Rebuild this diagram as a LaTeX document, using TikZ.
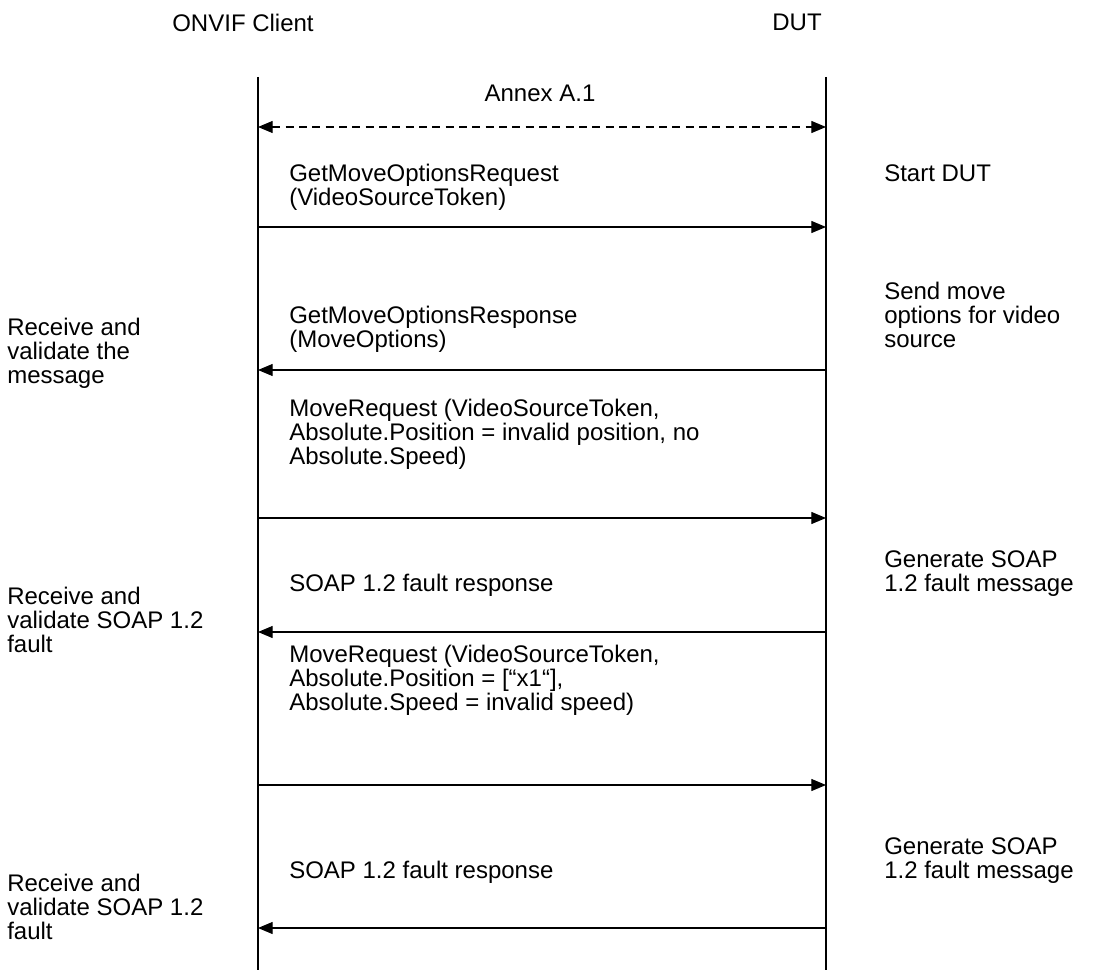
\documentclass[tikz,border=0pt]{standalone}
\usepackage{fontspec}
\setmainfont{Liberation Sans}
\usetikzlibrary{arrows.meta, positioning}

\begin{document}
\begin{tikzpicture}[
  x=0.75pt, y=-0.75pt,
  lifeline/.style={line width=1.1pt},
  msg/.style={line width=0.9pt, -{Triangle[length=11pt,width=9pt]}},
  annex/.style={line width=0.9pt, dashed, dash pattern=on 6pt off 4pt,
    {Triangle[length=11pt,width=9pt]}-{Triangle[length=11pt,width=9pt]}},
  txt/.style={font=\fontsize{18}{18}\selectfont, inner sep=0pt, align=left, anchor=north west}
]
\useasboundingbox (0,0) rectangle (1100,970);

% actors
\node[txt, anchor=north] (client) at (243,14) {ONVIF Client};
\node[txt, anchor=north] (dut) at (797,14) {DUT};

% lifelines
\coordinate (ctop) at (258,77);
\coordinate (cbot) at (258,970);
\coordinate (dtop) at (826,77);
\coordinate (dbot) at (826,970);
\draw[lifeline] (ctop) -- (cbot);
\draw[lifeline] (dtop) -- (dbot);

\foreach \n/\y in {a/127, b/227, c/370, d/518, e/632, f/785, g/928} {
  \coordinate (c\n) at (258,\y);
  \coordinate (d\n) at (826,\y);
}

% messages
\node[txt, anchor=north] (annexlbl) at (540,85) {Annex A.1};
\draw[annex] (ca) -- (da);

\node[txt] (m1) at (289,164) {GetMoveOptionsRequest\\(VideoSourceToken)};
\draw[msg] (cb) -- (db);

\node[txt] (m2) at (289,306) {GetMoveOptionsResponse\\(MoveOptions)};
\draw[msg] (dc) -- (cc);

\node[txt] (m3) at (289,399) {MoveRequest (VideoSourceToken,\\Absolute.Position = invalid position, no\\Absolute.Speed)};
\draw[msg] (cd) -- (dd);

\node[txt] (m4) at (289,574) {SOAP 1.2 fault response};
\draw[msg] (de) -- (ce);

\node[txt] (m5) at (289,645) {MoveRequest (VideoSourceToken,\\Absolute.Position = [“x1“],\\Absolute.Speed = invalid speed)};
\draw[msg] (cf) -- (df);

\node[txt] (m6) at (289,861) {SOAP 1.2 fault response};
\draw[msg] (dg) -- (cg);

% client side notes
\node[txt] (recv1) at (7,318) {Receive and\\validate the\\message};
\node[txt] (recv2) at (7,587) {Receive and\\validate SOAP 1.2\\fault};
\node[txt] (recv3) at (7,874) {Receive and\\validate SOAP 1.2\\fault};

% DUT side notes
\node[txt] (start) at (884,164) {Start DUT};
\node[txt] (send) at (884,282) {Send move\\options for video\\source};
\node[txt] (gen1) at (884,550) {Generate SOAP\\1.2 fault message};
\node[txt] (gen2) at (884,837) {Generate SOAP\\1.2 fault message};
\end{tikzpicture}
\end{document}
